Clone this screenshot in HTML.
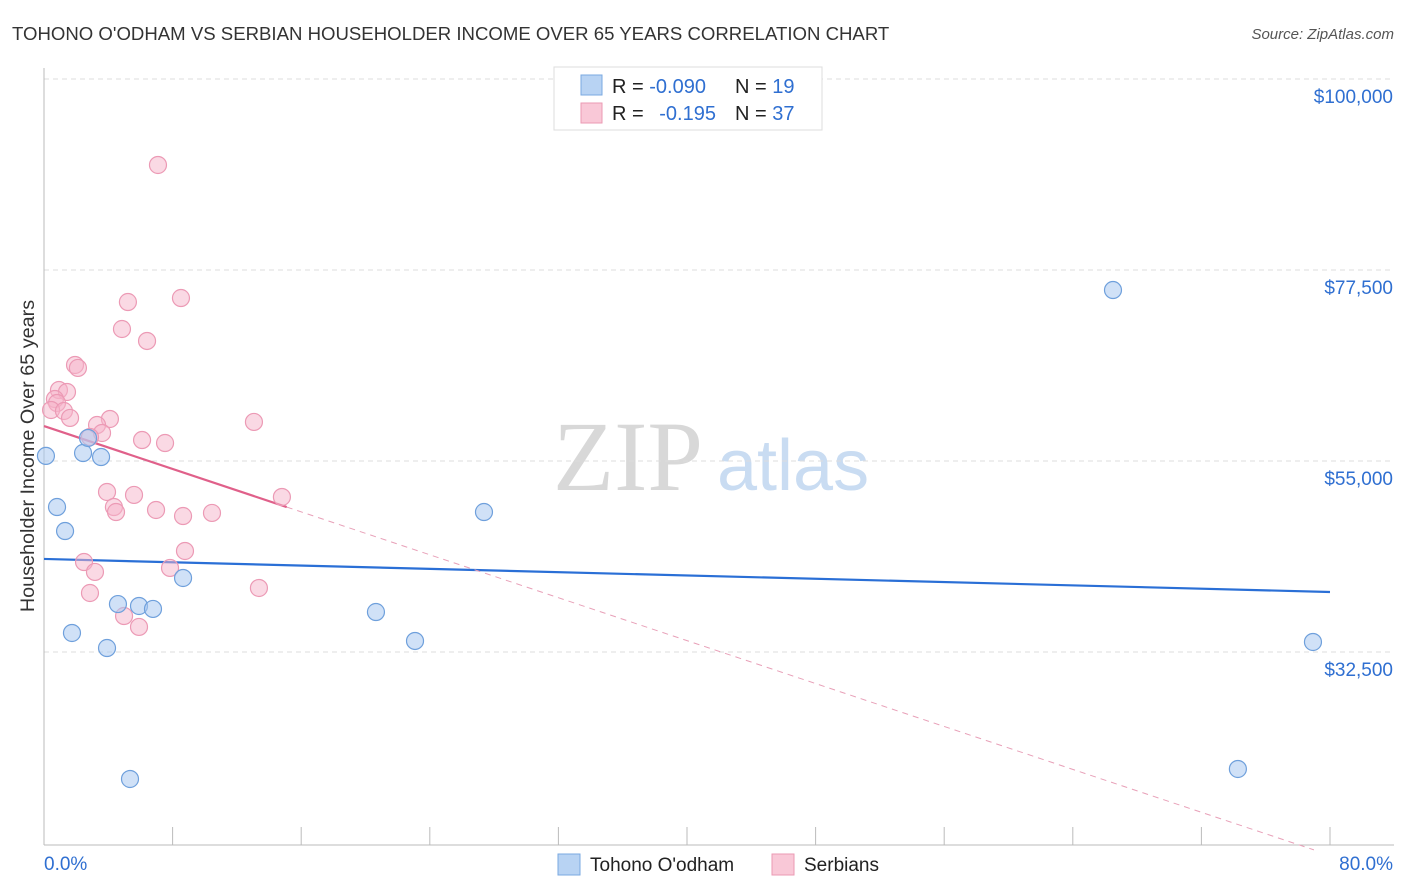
<!DOCTYPE html>
<html><head><meta charset="utf-8"><style>
body{margin:0;background:#fff;font-family:"Liberation Sans",sans-serif;}
svg{display:block}
</style></head><body>
<svg id="chart" width="1406" height="892" xmlns="http://www.w3.org/2000/svg">
<text x="12" y="40" font-size="18.6" fill="#333">TOHONO O'ODHAM VS SERBIAN HOUSEHOLDER INCOME OVER 65 YEARS CORRELATION CHART</text>
<text x="1394" y="39" font-size="15" fill="#555" font-style="italic" text-anchor="end">Source: ZipAtlas.com</text>
<text transform="translate(34,456) rotate(-90)" font-size="19.8" fill="#333" text-anchor="middle">Householder Income Over 65 years</text>
<g>
<text x="553" y="490" font-size="100" font-family="Liberation Serif,serif" fill="#d8d8d8">ZIP</text>
<text x="717" y="490" font-size="72" fill="#c9dcf2">atlas</text>
</g>
<g id="grid"></g><g id="axes"></g><g id="trends"></g><g id="points"></g>
<g>
<rect x="554" y="67" width="268" height="63" fill="#fff" stroke="#ddd"/>
<rect x="581" y="75" width="21" height="20" fill="#b8d3f3" stroke="#7aa8e0"/>
<rect x="581" y="103" width="21" height="20" fill="#f9c8d7" stroke="#eb9ab3"/>
<text x="612" y="93" font-size="20" fill="#222">R = <tspan fill="#2f6fd1">-0.090</tspan></text>
<text x="735" y="93" font-size="20" fill="#222">N = <tspan fill="#2f6fd1"> 19</tspan></text>
<text x="612" y="120" font-size="20" fill="#222">R = <tspan fill="#2f6fd1" dx="10">-0.195</tspan></text>
<text x="735" y="120" font-size="20" fill="#222">N = <tspan fill="#2f6fd1">37</tspan></text>
</g>
<g>
<rect x="558" y="854" width="22" height="21" fill="#b8d3f3" stroke="#7aa8e0"/>
<text x="590" y="871" font-size="19" fill="#222">Tohono O'odham</text>
<rect x="772" y="854" width="22" height="21" fill="#f9c8d7" stroke="#eb9ab3"/>
<text x="804" y="871" font-size="19" fill="#222">Serbians</text>
</g>
</svg>
<script>
const yTicks=[100000,77500,55000,32500];
const yTickLabels=["$100,000","$77,500","$55,000","$32,500"];
const xTickLabels=["0.0%","80.0%"];
const blueX=[0.12,0.81,1.31,1.74,2.43,2.74,3.55,3.92,4.60,5.35,5.91,6.78,8.65,20.65,23.08,27.37,66.5,74.27,78.94];
const blueY=[55600,49580,46750,34740,55940,57710,55470,32970,38150,17540,37920,37570,41220,37210,33800,48990,75140,18720,33680];
const pinkX=[7.09,8.52,5.22,4.85,6.41,1.93,2.11,0.93,1.43,0.68,0.81,0.44,1.24,1.62,4.10,3.30,3.61,2.86,6.10,7.53,13.06,3.92,5.60,4.35,4.48,6.97,8.65,10.45,14.80,8.77,2.49,3.17,7.84,2.86,13.37,4.98,5.91];
const pinkY=[89870,74200,73730,70550,69140,66310,65960,63360,63130,62300,61830,61010,60890,60070,59950,59240,58300,57830,57470,57120,59600,51350,51000,49580,48990,49230,48520,48880,50760,44400,43100,41930,42400,39450,40040,36740,35450];
const blueTrend=[43460,39570];
const pinkTrendStart=59120, pinkTrendSlope=-632, pinkSolidEnd=15.1;
const X=p=>44+p/80*1286;
const Y=v=>79+(100000-v)/22500*191;
const NS="http://www.w3.org/2000/svg";
function mk(tag,attrs,parent){const e=document.createElementNS(NS,tag);for(const k in attrs)e.setAttribute(k,attrs[k]);document.getElementById(parent).appendChild(e);return e;}
yTicks.forEach((v,i)=>{
 const l=mk('line',{x1:44,x2:1394,y1:Y(v),y2:Y(v),stroke:'#ddd','stroke-dasharray':'5,4'},'grid');
 
 
 const t=mk('text',{x:1393,y:Y(v)+24,'font-size':19,fill:'#2f6fd1','text-anchor':'end'},'axes');
 t.textContent=yTickLabels[i];
 
 
});
mk('line',{x1:44,x2:44,y1:68,y2:845,stroke:'#bbb'},'axes');
mk('line',{x1:44,x2:1394,y1:845,y2:845,stroke:'#bbb'},'axes');
for(let i=0;i<=10;i++){const tk=mk('line',{x1:X(i*8),x2:X(i*8),y1:827,y2:845,stroke:'#bbb'},'axes');
 
 }
[[0,'start',44],[1,'end',1393]].forEach(([i,a,x])=>{const t=mk('text',{x:x,y:870,'font-size':19,fill:'#2f6fd1','text-anchor':a},'axes');t.textContent=xTickLabels[i];
 
 });
const bl=mk('line',{x1:X(0),y1:Y(blueTrend[0]),x2:X(80),y2:Y(blueTrend[1]),stroke:'#2a6fd6','stroke-width':2.2},'trends');


const ps=mk('line',{x1:X(0),y1:Y(pinkTrendStart),x2:X(pinkSolidEnd),y2:Y(pinkTrendStart+pinkTrendSlope*pinkSolidEnd),stroke:'#e0608a','stroke-width':2.2},'trends');


const pd=mk('line',{x1:X(pinkSolidEnd),y1:Y(pinkTrendStart+pinkTrendSlope*pinkSolidEnd),x2:X(79),y2:Y(pinkTrendStart+pinkTrendSlope*79),stroke:'#e8a0b8','stroke-width':1,'stroke-dasharray':'6,5'},'trends');


pinkX.forEach((x,i)=>{const c=mk('circle',{cx:X(x),cy:Y(pinkY[i]),r:8.5,fill:'rgba(246,180,202,0.5)',stroke:'#ec9ab5','stroke-width':1.2},'points');
 
 });
blueX.forEach((x,i)=>{const c=mk('circle',{cx:X(x),cy:Y(blueY[i]),r:8.5,fill:'rgba(170,200,240,0.55)',stroke:'#6fa0dc','stroke-width':1.2},'points');
 
 });
</script>
</body></html>
